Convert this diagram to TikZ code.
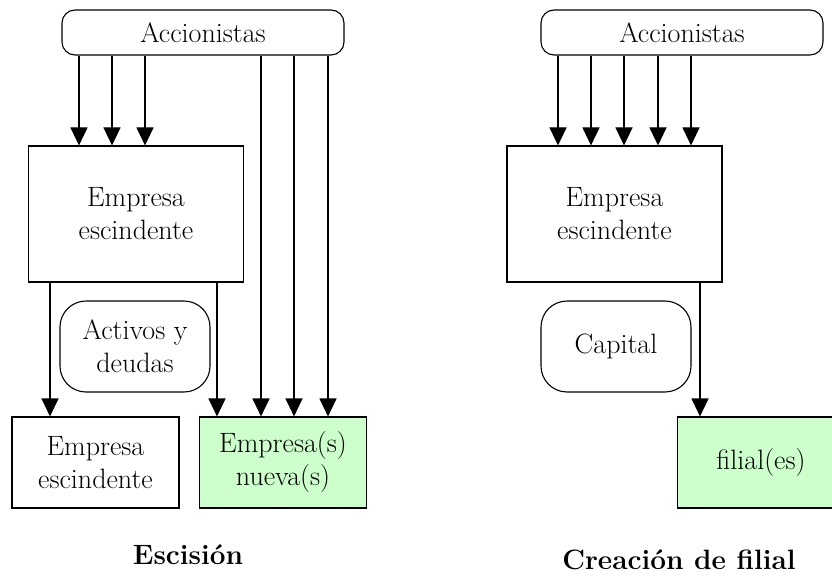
\documentclass[tikz,border=0pt]{standalone}
\usetikzlibrary{arrows.meta}
\definecolor{lightgreen}{HTML}{CCFFCC}
\begin{document}
\begin{tikzpicture}[x=1pt,y=-1pt,
  base/.style={draw=black,line width=1.1pt,align=center,inner sep=0pt,
    font=\fontsize{28}{33}\selectfont},
  pill/.style={base,rounded corners=13pt,minimum width=282pt,minimum height=45pt},
  bigbox/.style={base,minimum width=215pt,minimum height=136pt},
  smallbox/.style={base,minimum width=167pt,minimum height=91pt},
  soft/.style={base,rounded corners=26pt,minimum width=150pt,minimum height=91pt},
  newbox/.style={smallbox,fill=lightgreen},
  caption/.style={font=\fontsize{28}{33}\selectfont\bfseries,inner sep=0pt},
  arr/.style={line width=1.1pt,-{Triangle[width=17pt,length=18pt]}}]
\useasboundingbox (0,0) rectangle (832,575);
% Left: Escision
\node[pill] (accL) at (203,32.5) {Accionistas};
\node[bigbox] (empL) at (136,214) {Empresa\\escindente};
\node[soft] (act) at (135,346.5) {Activos y\\deudas};
\node[smallbox] (emp2) at (95.5,462.5) {Empresa\\escindente};
\node[newbox] (nueva) at (283,462.5) {Empresa(s)\\nueva(s)};
\node[caption] (escL) at (188,555) {Escisión};
\foreach \x in {79,112,145} \draw[arr] (accL.south -| \x,0) -- (empL.north -| \x,0);
\draw[arr] (empL.south -| 50,0) -- (emp2.north -| 50,0);
\draw[arr] (empL.south -| 217,0) -- (nueva.north -| 217,0);
\foreach \x in {261,294,328} \draw[arr] (accL.south -| \x,0) -- (nueva.north -| \x,0);
% Right: Creacion de filial
\node[pill] (accR) at (682,32.5) {Accionistas};
\node[bigbox] (empR) at (614.5,214) {Empresa\\escindente};
\node[soft] (cap) at (616,346.5) {Capital};
\node[newbox] (fil) at (761,462.5) {filial(es)};
\node[caption] (creL) at (679,560) {Creación de filial};
\foreach \x in {558,591,624,658,691} \draw[arr] (accR.south -| \x,0) -- (empR.north -| \x,0);
\draw[arr] (empR.south -| 700,0) -- (fil.north -| 700,0);
\end{tikzpicture}
\end{document}
